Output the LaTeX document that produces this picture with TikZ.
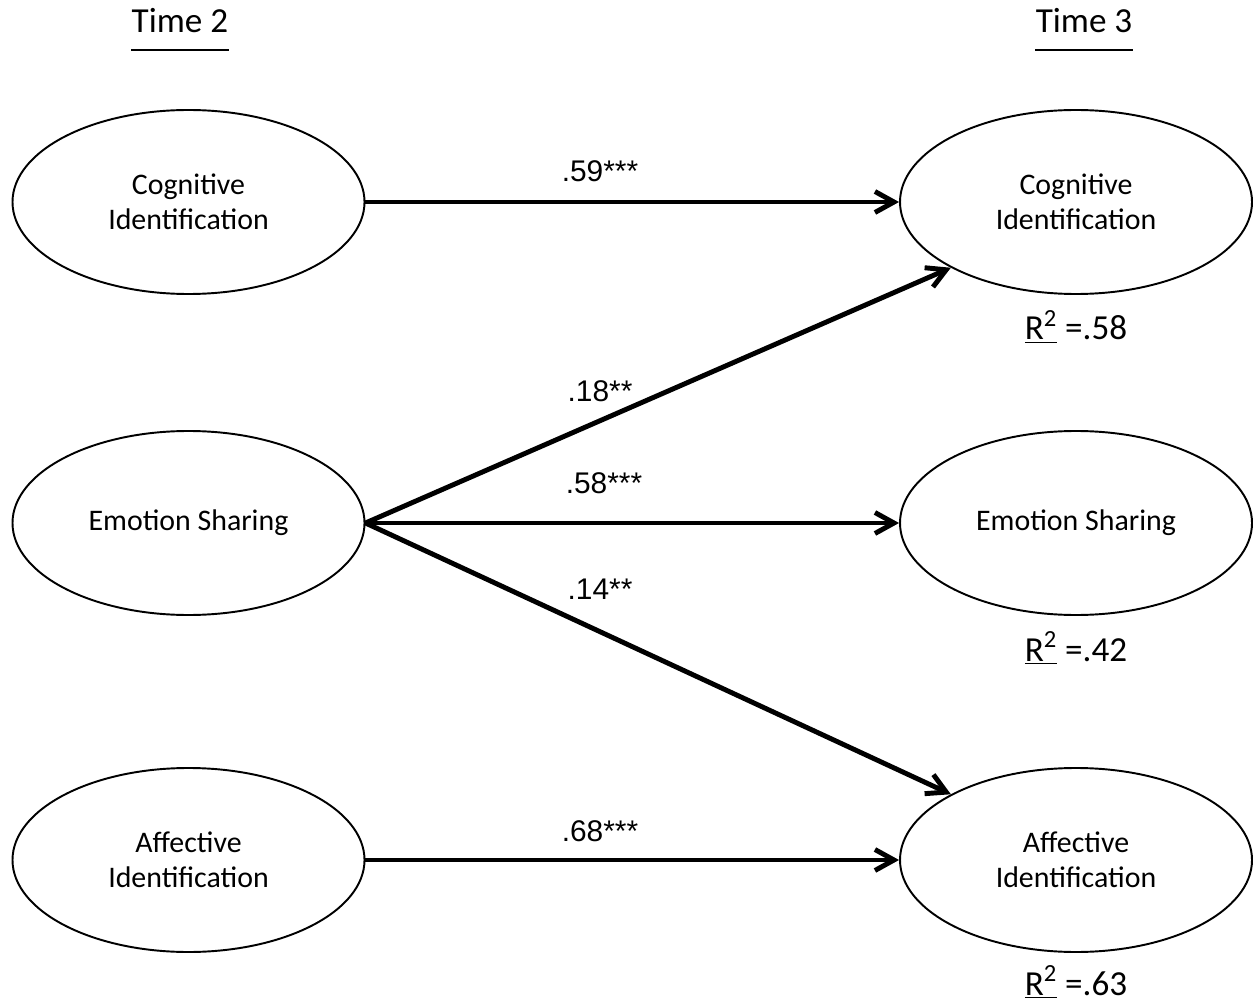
\documentclass[tikz,border=0pt]{standalone}
\usepackage{fontspec}
\setmainfont{Carlito}
\newfontfamily\coeffont{Liberation Sans}
\usepackage{tikz}
\usetikzlibrary{arrows.meta,shapes.geometric,positioning,calc}

\begin{document}
\begin{tikzpicture}[
    lat/.style={draw, ellipse, line width=1.1pt, minimum width=7.04cm, minimum height=3.68cm, inner sep=0pt, align=center, font=\fontsize{17}{20}\selectfont},
    arr/.style={-{Straight Barb[length=3.8mm, width=4.2mm]}, line width=2.8pt},
    coef/.style={font=\coeffont\fontsize{17}{20}\selectfont, inner sep=0pt},
    rsq/.style={font=\fontsize{20}{24}\selectfont, inner sep=0pt, anchor=base},
    wave/.style={font=\fontsize{20}{24}\selectfont, inner sep=0pt, anchor=base}
]
\useasboundingbox (0,0) rectangle (25.06,-20.1);

\node[wave] (t2) at (3.6,-0.66) {Time 2};
\node[wave] (t3) at (21.68,-0.66) {Time 3};
\draw[line width=1.3pt] ([yshift=-0.34cm]t2.base west) -- ([yshift=-0.34cm]t2.base east);
\draw[line width=1.3pt] ([yshift=-0.34cm]t3.base west) -- ([yshift=-0.34cm]t3.base east);

\node[lat] (cogA) at (3.77,-4.04) {Cognitive\\Identification};
\node[lat] (emoA) at (3.77,-10.46) {Emotion Sharing};
\node[lat] (affA) at (3.77,-17.2) {Affective\\Identification};
\node[lat] (cogB) at (21.52,-4.04) {Cognitive\\Identification};
\node[lat] (emoB) at (21.52,-10.46) {Emotion Sharing};
\node[lat] (affB) at (21.52,-17.2) {Affective\\Identification};

\node[rsq] (r2cog) at (21.52,-6.8) {\underline{R\textsuperscript{2}} =.58};
\node[rsq] (r2emo) at (21.52,-13.22) {\underline{R\textsuperscript{2}} =.42};
\node[rsq] (r2aff) at (21.52,-19.9) {\underline{R\textsuperscript{2}} =.63};

\draw[arr] (cogA.east) -- (cogB.west);
\draw[arr] (emoA.east) -- (cogB.south west);
\draw[arr] (emoA.east) -- (emoB.west);
\draw[arr] (emoA.east) -- (affB.north west);
\draw[arr] (affA.east) -- (affB.west);

\node[coef] (b1) at (12.0,-3.42) {.59***};
\node[coef] (b2) at (12.0,-7.82) {.18**};
\node[coef] (b3) at (12.08,-9.66) {.58***};
\node[coef] (b4) at (12.0,-11.78) {.14**};
\node[coef] (b5) at (12.0,-16.62) {.68***};
\end{tikzpicture}
\end{document}
